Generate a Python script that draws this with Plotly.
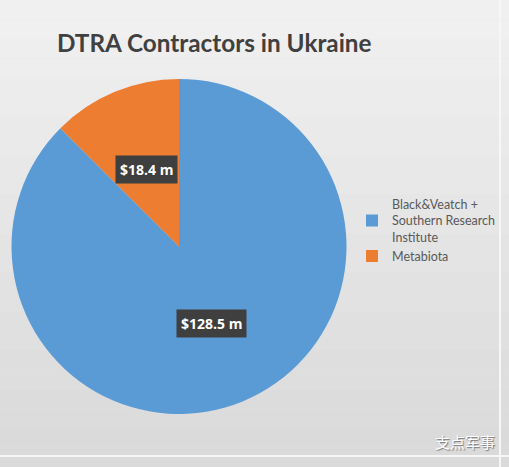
import math
import plotly.graph_objects as go

categories = ["Black&Veatch +<br>Southern Research<br>Institute", "Metabiota"]
values = [128.5, 18.4]
value_labels = ["$128.5 m", "$18.4 m"]
colors = ["#5b9bd5", "#ed7d31"]

W, H = 509, 467
# pie domain (px), centre from top-left
PCX, PCY, HALF = 179, 246.5, 167.5
dom_x = [(PCX - HALF) / W, (PCX + HALF) / W]
dom_y = [(H - PCY - HALF) / H, (H - PCY + HALF) / H]

fig = go.Figure()
fig.add_trace(go.Pie(
    labels=categories, values=values, sort=False, direction="clockwise", rotation=0,
    marker=dict(colors=colors, line=dict(width=0)),
    textinfo="none", hoverinfo="label+value",
    domain=dict(x=dom_x, y=dom_y),
))

# value labels placed from the slice mid-angles
total = sum(values)
start = 0.0
for v, lab in zip(values, value_labels):
    mid = (start + v / 2) / total * 2 * math.pi
    start += v
    rad = 0.5 * HALF
    px = PCX + rad * math.sin(mid)
    py = PCY - rad * math.cos(mid)
    fig.add_annotation(
        x=px / W, y=1 - py / H, xref="paper", yref="paper", text="<b>" + lab + "</b>",
        xanchor="center", yanchor="middle",
        showarrow=False, font=dict(family="Open Sans", size=14, color="#ffffff"),
        bgcolor="#3f3f3f", borderpad=4,
    )

# background gradient bands
shapes = []
n = 24
for i in range(n):
    y0 = i / n
    y1 = (i + 1) / n
    t = (i + 0.5) / n  # 0 bottom -> 1 top
    g = int(round(0xd9 + (0xf1 - 0xd9) * t))
    shapes.append(dict(type="rect", xref="paper", yref="paper", x0=0, x1=1, y0=y0, y1=y1,
                       fillcolor=f"rgb({g},{g},{g})", line=dict(width=0), layer="below"))
shapes.append(dict(type="line", xref="paper", yref="paper", x0=500 / W, x1=500 / W, y0=0, y1=1,
                   line=dict(color="#f6f6f6", width=2), layer="below"))
shapes.append(dict(type="line", xref="paper", yref="paper", x0=0, x1=1, y0=1 - 456 / H, y1=1 - 456 / H,
                   line=dict(color="#f6f6f6", width=2), layer="below"))

fig.add_annotation(x=497 / W, y=1 - 441 / H, xref="paper", yref="paper", text="支点军事",
                   showarrow=False, xanchor="right", yanchor="middle",
                   font=dict(family="Noto Sans CJK SC", size=15, color="#ffffff",
                             shadow="1px 1px 1px #777777"))

fig.update_layout(
    width=W, height=H,
    margin=dict(l=0, r=0, t=0, b=0),
    paper_bgcolor="#e4e4e4", plot_bgcolor="#e4e4e4",
    shapes=shapes,
    title=dict(text="<b>DTRA Contractors in Ukraine</b>", x=57 / W, xanchor="left",
               y=1 - 43 / H, yanchor="middle",
               font=dict(family="Lato", size=24.3, color="#404040")),
    legend=dict(x=352 / W, y=1 - 230 / H, xanchor="left", yanchor="middle",
                font=dict(family="Lato", size=12.5, color="#595959"),
                bgcolor="rgba(0,0,0,0)", itemwidth=30),
    showlegend=True,
)

fig.write_html("out.html", config={"displayModeBar": False},
               post_script="document.body.style.margin='0';")
